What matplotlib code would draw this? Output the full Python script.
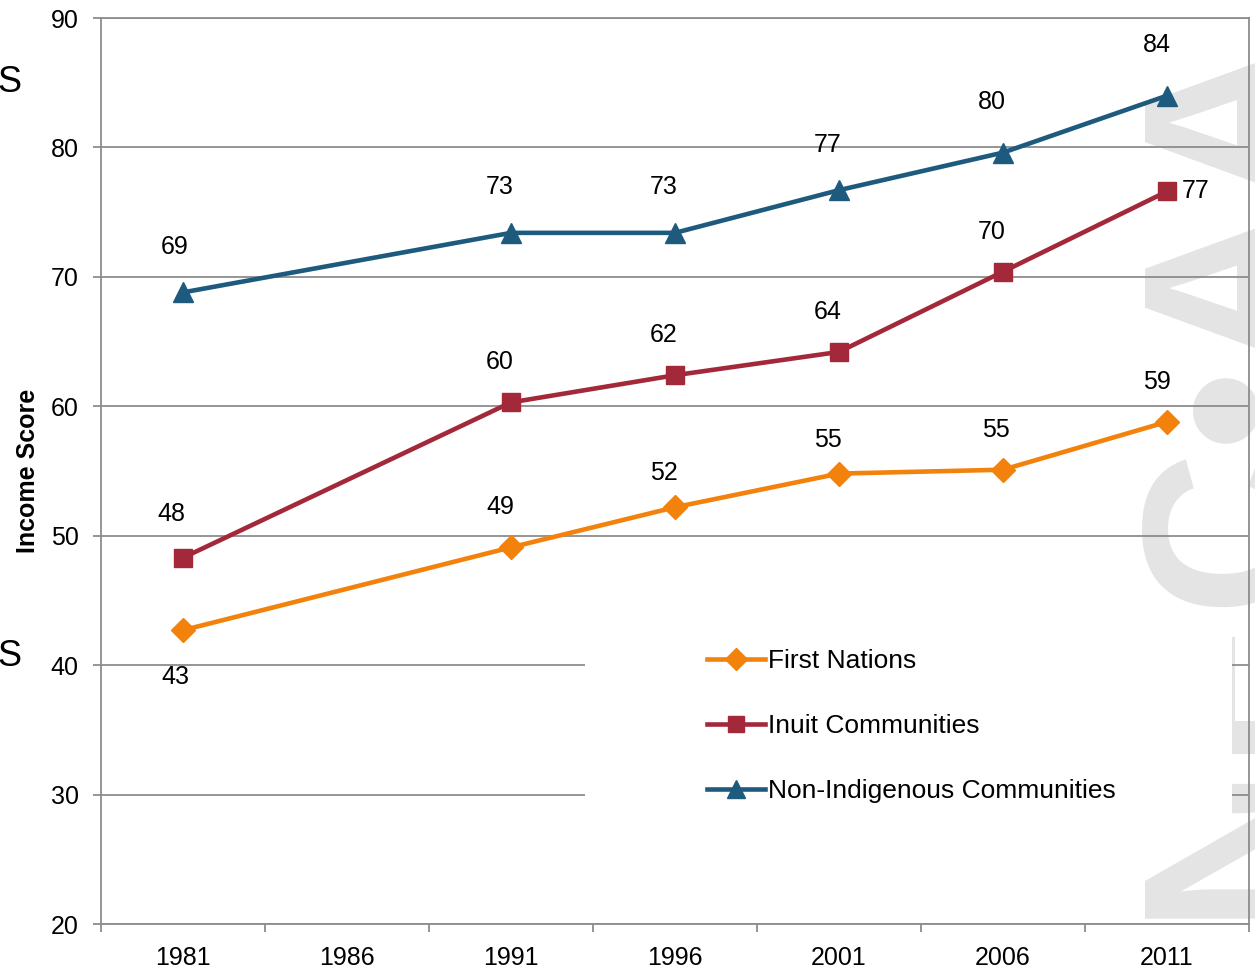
import matplotlib
matplotlib.use("Agg")
import matplotlib.pyplot as plt
from matplotlib.patches import Rectangle

plt.rcParams['font.family'] = ['Liberation Sans', 'DejaVu Sans']

# data
years = ['1981', '1986', '1991', '1996', '2001', '2006', '2011']
data_years = ['1981', '1991', '1996', '2001', '2006', '2011']
first_nations = [42.7, 49.1, 52.2, 54.8, 55.1, 58.8]
inuit = [48.3, 60.3, 62.4, 64.2, 70.4, 76.6]
non_indigenous = [68.8, 73.4, 73.4, 76.7, 79.6, 84.0]

# label offsets in pixels (dx, dy)
fn_off = [(-8, -47), (-11, 40), (-11, 34), (-11, 34), (-7, 40), (-10, 40)]
in_off = [(-12, 44), (-11, 40), (-11, 40), (-11, 40), (-11, 40), (29, 0)]
ni_off = [(-8, 45), (-11, 46), (-11, 46), (-11, 45), (-11, 51), (-10, 51)]

c_fn = '#F2820C'
c_in = '#A2283A'
c_ni = '#1E5A7E'
grid_c = '#8C8C8C'

fig = plt.figure(figsize=(12.55, 9.69), dpi=100)
ax = fig.add_axes([101 / 1255, 45 / 969, 1148 / 1255, 906 / 969])
ax.set_facecolor('none')

# faint watermark on the right edge
fig.text(1122 / 1255, 0.515, 'NEC\u2022AA', rotation=90, ha='left', va='center',
         fontsize=165, fontweight='bold', color='#e4e4e4', zorder=-5)

xpos = {y: i for i, y in enumerate(years)}
xs = [xpos[y] for y in data_years]

series = [
    (first_nations, c_fn, 'D', 12, 'First Nations', fn_off),
    (inuit, c_in, 's', 13, 'Inuit Communities', in_off),
    (non_indigenous, c_ni, '^', 14, 'Non-Indigenous Communities', ni_off),
]
for vals, col, mk, ms, name, offs in series:
    ax.plot(xs, vals, color=col, lw=3.3, marker=mk, markersize=ms,
            label=name, zorder=4, clip_on=False)
    for x, v, (dx, dy) in zip(xs, vals, offs):
        ax.annotate(f'{round(v):d}', (x, v), xytext=(dx, dy),
                    textcoords='offset pixels', ha='center', va='center',
                    fontsize=18, zorder=5)

ax.set_xlim(-0.5, len(years) - 0.5)
ax.set_ylim(20, 90)
ax.set_yticks(range(20, 91, 10))
ax.set_xticks([i - 0.5 for i in range(len(years) + 1)])
ax.set_xticklabels([])
ax.set_xticks(range(len(years)), minor=True)
ax.set_xticklabels(years, minor=True)
ax.tick_params(axis='x', which='minor', length=0, labelsize=18, pad=16)
ax.tick_params(axis='x', which='major', length=6, width=1.3, color=grid_c, direction='out')
ax.tick_params(axis='y', length=6, width=1.3, color=grid_c, labelsize=18, pad=10)

ax.grid(axis='y', color=grid_c, lw=1.3)
ax.set_axisbelow(True)
for s in ax.spines.values():
    s.set_color(grid_c)
    s.set_linewidth(1.3)

ax.set_ylabel('Income Score', fontsize=18, fontweight='bold', labelpad=8)

# white legend area covering grid lines
ax.add_patch(Rectangle((0.4216, 0.1038), 0.5636, 0.2207, transform=ax.transAxes,
                       facecolor='white', edgecolor='none', zorder=2))
ax.legend(loc='upper left', bbox_to_anchor=(0.528, 0.303), frameon=False,
          fontsize=19, handlelength=2.2, handletextpad=0.1,
          labelspacing=1.55, borderpad=0, borderaxespad=0, markerscale=0.9)

# cut-off text at the left edge
fig.text(-0.002, 1 - 82 / 969, 'S', fontsize=26, va='center', ha='left')
fig.text(-0.002, 1 - 657 / 969, 'S', fontsize=26, va='center', ha='left')

fig.savefig('out.png', dpi=100)
